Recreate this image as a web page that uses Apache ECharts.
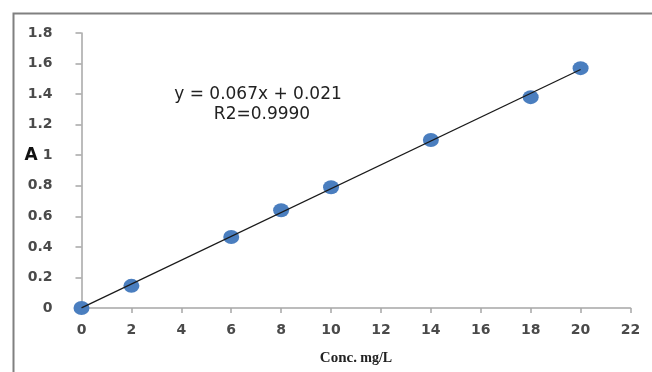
<!DOCTYPE html>
<html>
<head>
<meta charset="utf-8">
<script src="https://cdn.jsdelivr.net/npm/echarts@6/dist/echarts.min.js"></script>
<style>
  html, body { margin: 0; padding: 0; background: #fff; }
  #chart { width: 652px; height: 372px; }
</style>
</head>
<body>
<div id="chart"></div>
<script>
// Calibration standards: concentration (mg/L) and measured absorbance
const concentration = [0, 2, 6, 8, 10, 14, 18, 20];
const absorbance = [0, 0.145, 0.465, 0.64, 0.79, 1.10, 1.38, 1.57];

// Axis ranges
const xTicks = { min: 0, max: 22, interval: 2 };
const yTicks = { min: 0, max: 1.8, interval: 0.2 };

// Text of the regression annotation
const equationText = 'y = 0.067x + 0.021';
const r2Text = 'R2=0.9990';
const yAxisTitle = 'A';

// Least-squares trend line through the standards
function linearFit(xs, ys) {
  const n = xs.length;
  const mx = xs.reduce((a, b) => a + b, 0) / n;
  const my = ys.reduce((a, b) => a + b, 0) / n;
  let sxy = 0, sxx = 0;
  for (let i = 0; i < n; i++) {
    sxy += (xs[i] - mx) * (ys[i] - my);
    sxx += (xs[i] - mx) * (xs[i] - mx);
  }
  const slope = sxy / sxx;
  return { slope, intercept: my - slope * mx };
}
const fit = linearFit(concentration, absorbance);
const xFirst = Math.min(...concentration);
const xLast = Math.max(...concentration);
const trendLine = [
  [xFirst, fit.intercept + fit.slope * xFirst],
  [xLast, fit.intercept + fit.slope * xLast]
];

const points = concentration.map((c, i) => [c, absorbance[i]]);

const axisGray = '#a6a6a6';
const labelFont = {
  fontFamily: 'DejaVu Sans',
  fontSize: 14,
  fontWeight: 'bold',
  color: '#4a4a4a'
};

const chart = echarts.init(document.getElementById('chart'));
chart.setOption({
  animation: false,
  backgroundColor: '#ffffff',
  grid: { left: 81.5, right: 21.5, top: 33, bottom: 64 },
  xAxis: {
    type: 'value',
    min: xTicks.min,
    max: xTicks.max,
    interval: xTicks.interval,
    splitLine: { show: false },
    axisLine: { show: true, onZero: false, lineStyle: { color: axisGray, width: 1.5 } },
    axisTick: { show: true, length: 5, inside: false, lineStyle: { color: axisGray, width: 1.5 } },
    axisLabel: Object.assign({ margin: 15 }, labelFont),
    name: '{a|Conc.} {b|mg/L}',
    nameLocation: 'middle',
    nameGap: 43,
    nameTextStyle: {
      rich: {
        a: { fontFamily: 'Liberation Serif', fontWeight: 'bold', fontSize: 15, color: '#222' },
        b: { fontFamily: 'Liberation Serif', fontWeight: 'bold', fontSize: 14, color: '#222' }
      }
    }
  },
  yAxis: {
    type: 'value',
    min: yTicks.min,
    max: yTicks.max,
    interval: yTicks.interval,
    splitLine: { show: false },
    axisLine: { show: true, lineStyle: { color: axisGray, width: 1.5 } },
    axisTick: { show: true, length: 6, inside: false, lineStyle: { color: axisGray, width: 1.5 } },
    axisLabel: Object.assign({ margin: 29, formatter: v => String(+v.toFixed(1)) }, labelFont)
  },
  graphic: [
    {
      type: 'rect',
      left: 11, top: 11,
      shape: { width: 660, height: 400 },
      style: { fill: 'none', stroke: '#808080', lineWidth: 2 },
      silent: true
    },
    {
      type: 'text',
      x: 258, y: 95,
      style: {
        text: equationText,
        fontFamily: 'DejaVu Sans', fontSize: 17, fill: '#222',
        textAlign: 'center', textVerticalAlign: 'middle'
      }
    },
    {
      type: 'text',
      x: 262, y: 115,
      style: {
        text: r2Text,
        fontFamily: 'DejaVu Sans', fontSize: 17, fill: '#222',
        textAlign: 'center', textVerticalAlign: 'middle'
      }
    },
    {
      type: 'text',
      x: 31, y: 156,
      style: {
        text: yAxisTitle,
        fontFamily: 'DejaVu Sans', fontWeight: 'bold', fontSize: 17, fill: '#111',
        textAlign: 'center', textVerticalAlign: 'middle'
      }
    }
  ],
  series: [
    {
      type: 'scatter',
      data: points,
      symbol: 'circle',
      symbolSize: [16, 14],
      itemStyle: { color: '#4a7ebf', opacity: 1 },
      z: 2
    },
    {
      type: 'line',
      data: trendLine,
      symbol: 'none',
      lineStyle: { color: '#1a1a1a', width: 1.3 },
      z: 3
    }
  ]
});
</script>
</body>
</html>
